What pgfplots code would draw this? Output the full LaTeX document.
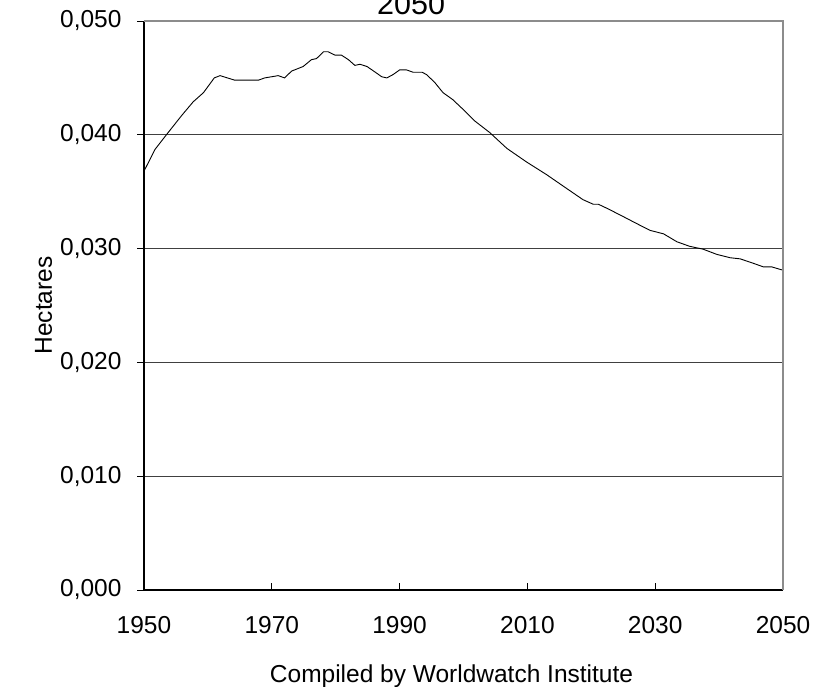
\documentclass[border=0pt]{standalone}
\usepackage{fontspec}
\setmainfont{Liberation Sans}
\usepackage{pgfplots}
\pgfplotsset{compat=1.18}

% Grain area per person, 1950-2050
\pgfplotstableread{
year  ha
1950.0 0.0368
1951.7 0.0387
1953.5 0.0400
1955.9 0.0417
1957.7 0.0429
1959.3 0.0437
1961.0 0.0450
1961.9 0.0452
1964.2 0.0448
1967.9 0.0448
1968.9 0.0450
1971.0 0.0452
1972.0 0.0450
1973.1 0.0456
1974.9 0.0460
1976.2 0.0466
1977.0 0.0467
1978.1 0.0473
1978.8 0.0473
1979.9 0.0470
1980.9 0.0470
1982.0 0.0466
1983.0 0.0461
1983.8 0.0462
1984.9 0.0460
1986.2 0.0455
1987.2 0.0451
1988.0 0.0450
1989.0 0.0453
1990.0 0.0457
1991.1 0.0457
1992.1 0.0455
1993.5 0.0455
1994.2 0.0453
1995.5 0.0446
1996.8 0.0437
1998.3 0.0431
2000.0 0.0422
2001.8 0.0412
2004.1 0.0402
2006.8 0.0388
2009.9 0.0376
2013.0 0.0365
2016.1 0.0353
2018.7 0.0343
2020.3 0.0339
2021.1 0.0339
2022.6 0.0335
2024.7 0.0329
2027.1 0.0322
2029.2 0.0316
2031.3 0.0313
2033.4 0.0306
2035.4 0.0302
2037.5 0.02995
2039.6 0.0295
2041.7 0.0292
2043.3 0.0291
2045.4 0.0287
2046.9 0.0284
2048.2 0.0284
2050.0 0.0281
}\hadata

\definecolor{frame}{HTML}{8C8C8C}
\definecolor{gridc}{HTML}{404040}

\begin{document}
\begin{tikzpicture}
\begin{axis}[
  at={(144pt,-590pt)}, anchor=south west,
  width=639pt, height=569pt, scale only axis,
  xmin=1950, xmax=2050, ymin=0, ymax=0.05,
  xtick={1950,1970,1990,2010,2030,2050},
  ytick={0,0.01,0.02,0.03,0.04,0.05},
  scaled y ticks=false,
  axis x line*=bottom, axis y line*=left,
  axis line style={black, line width=1.2pt, -},
  ymajorgrids, major grid style={gridc, line width=1.2pt},
  tick align=inside,
  major tick length=7pt,
  tick style={black, line width=0.8pt},
  ytick style={xshift=-7pt},
  /pgf/number format/assume math mode=true,
  yticklabel style={/pgf/number format/fixed, /pgf/number format/fixed zerofill,
    /pgf/number format/precision=3, /pgf/number format/use comma},
  xticklabel style={/pgf/number format/1000 sep={}},
  tick label style={font=\fontsize{24.5}{28}\selectfont},
  yticklabel style={anchor=east, xshift=-19pt},
  xticklabel style={anchor=north, yshift=-23pt},
  xlabel={Compiled by Worldwatch Institute},
  ylabel={Hectares},
  label style={font=\fontsize{24.5}{28}\selectfont},
  xlabel style={at={(0.5,0)}, anchor=base, yshift=-92pt, xshift=-12pt},
  ylabel style={at={(0,0.5)}, anchor=base, yshift=92pt},
  title={2050},
  title style={font=\fontsize{30.5}{34}\selectfont, at={(0.418,1)}, anchor=base, yshift=1pt},
  clip=false,
]
\addplot[black, line width=0.9pt] table[x=year, y=ha] {\hadata};
\draw[frame, line width=1.5pt] (rel axis cs:0,1) -- (rel axis cs:1,1) -- (rel axis cs:1,0);
\end{axis}
\pgfresetboundingbox
\useasboundingbox (0,0) rectangle (829pt,-687pt);
\end{tikzpicture}
\end{document}
